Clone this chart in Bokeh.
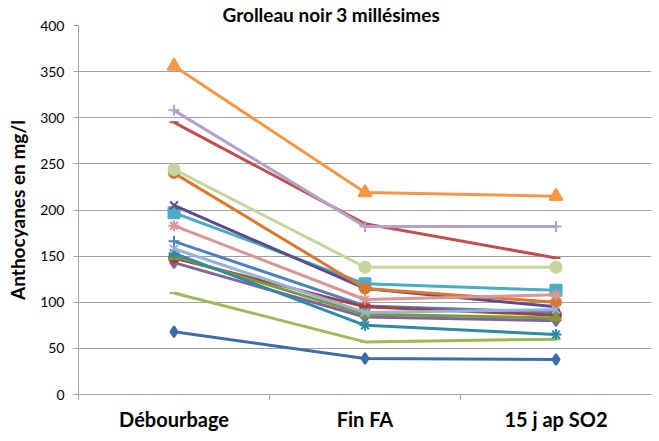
from bokeh.plotting import figure
from bokeh.models import Range1d, LinearAxis, FixedTicker
from bokeh.embed import file_html
from bokeh.resources import INLINE

title = "Grolleau noir 3 millésimes"
y_label = "Anthocyanes en mg/l"
categories = ["Débourbage", "Fin FA", "15 j ap SO2"]
y_ticks = [0, 50, 100, 150, 200, 250, 300, 350, 400]

s01 = [68, 39, 38]
s02 = [295, 185, 148]
s03 = [110, 57, 60]
s04 = [143, 84, 80]
s05 = [197, 120, 113]
s06 = [356, 219, 215]
s07 = [166, 96, 89]
s08 = [148, 95, 86]
s09 = [150, 87, 83]
s10 = [205, 115, 95]
s11 = [153, 75, 65]
s12 = [240, 115, 100]
s13 = [158, 89, 92]
s14 = [183, 103, 108]
s15 = [244, 138, 138]
s16 = [308, 182, 182]

series = [s01, s02, s03, s04, s05, s06, s07, s08, s09, s10, s11, s12, s13, s14, s15, s16]
colors = ["#3E6CA8", "#C0504D", "#9BBB59", "#8064A2", "#4BACC6", "#F79646",
          "#4F81BD", "#A5403D", "#7A9A3C", "#5F4A8B", "#2E8BA4", "#D9782E",
          "#95B3D7", "#D99694", "#C3D69B", "#B3A2C7"]
markers = ["diamond", "dash", "dash", "diamond", "square", "triangle",
           "cross", "circle", "triangle", "x", "asterisk", "circle",
           "x", "asterisk", "circle", "cross"]
sizes = [11, 9, 9, 11, 11, 13, 11, 10, 10, 11, 11, 10, 11, 11, 11, 11]

FONT = "Lato"

p = figure(width=651, height=433, x_range=categories, y_range=Range1d(0, 400),
           output_backend="svg", toolbar_location=None, x_axis_location=None,
           min_border_left=78, min_border_right=0, min_border_top=20, min_border_bottom=37)
p.outline_line_color = None
p.background_fill_color = "white"
p.border_fill_color = "white"

p.title.text = title
p.title.align = "left"
p.title.text_font = FONT
p.title.text_font_style = "bold"
p.title.text_font_size = "19px"
p.title.text_color = "black"
p.title.standoff = 0
p.title.offset = 144

for vals, c, m, s in zip(series, colors, markers, sizes):
    p.line(categories, vals, line_color=c, line_width=3)
    p.scatter(categories, vals, marker=m, size=s, fill_color=c, line_color=c, line_width=2)

n = len(categories)
# numeric positions on the categorical range: factor i spans [i, i+1]
xa = LinearAxis(ticker=FixedTicker(ticks=[i + 0.5 for i in range(n)], minor_ticks=list(range(n + 1))),
                major_label_overrides={i + 0.5: c for i, c in enumerate(categories)})
xa.axis_line_color = "#A0A0A0"
xa.major_tick_line_color = None
xa.major_tick_out = 0
xa.major_tick_in = 0
xa.minor_tick_line_color = "#A0A0A0"
xa.minor_tick_out = 5
xa.minor_tick_in = 0
xa.major_label_standoff = 7
xa.major_label_text_font = FONT
xa.major_label_text_font_style = "bold"
xa.major_label_text_font_size = "20px"
xa.major_label_text_color = "black"
p.add_layout(xa, "below")

p.xgrid.visible = False
p.ygrid.grid_line_color = "#A0A0A0"
p.ygrid.grid_line_width = 1

ya = p.yaxis[0]
ya.ticker = FixedTicker(ticks=y_ticks)
ya.axis_line_color = "#A0A0A0"
ya.major_tick_line_color = "#A0A0A0"
ya.major_tick_out = 5
ya.major_tick_in = 0
ya.minor_tick_line_color = None
ya.major_label_standoff = 9
ya.major_label_text_font = FONT
ya.major_label_text_font_size = "14px"
ya.major_label_text_color = "black"
ya.axis_label = y_label
ya.axis_label_text_font = FONT
ya.axis_label_text_font_style = "bold"
ya.axis_label_text_font_size = "19px"
ya.axis_label_text_color = "black"
ya.axis_label_standoff = 8

open("out.html", "w").write(file_html(p, INLINE))
